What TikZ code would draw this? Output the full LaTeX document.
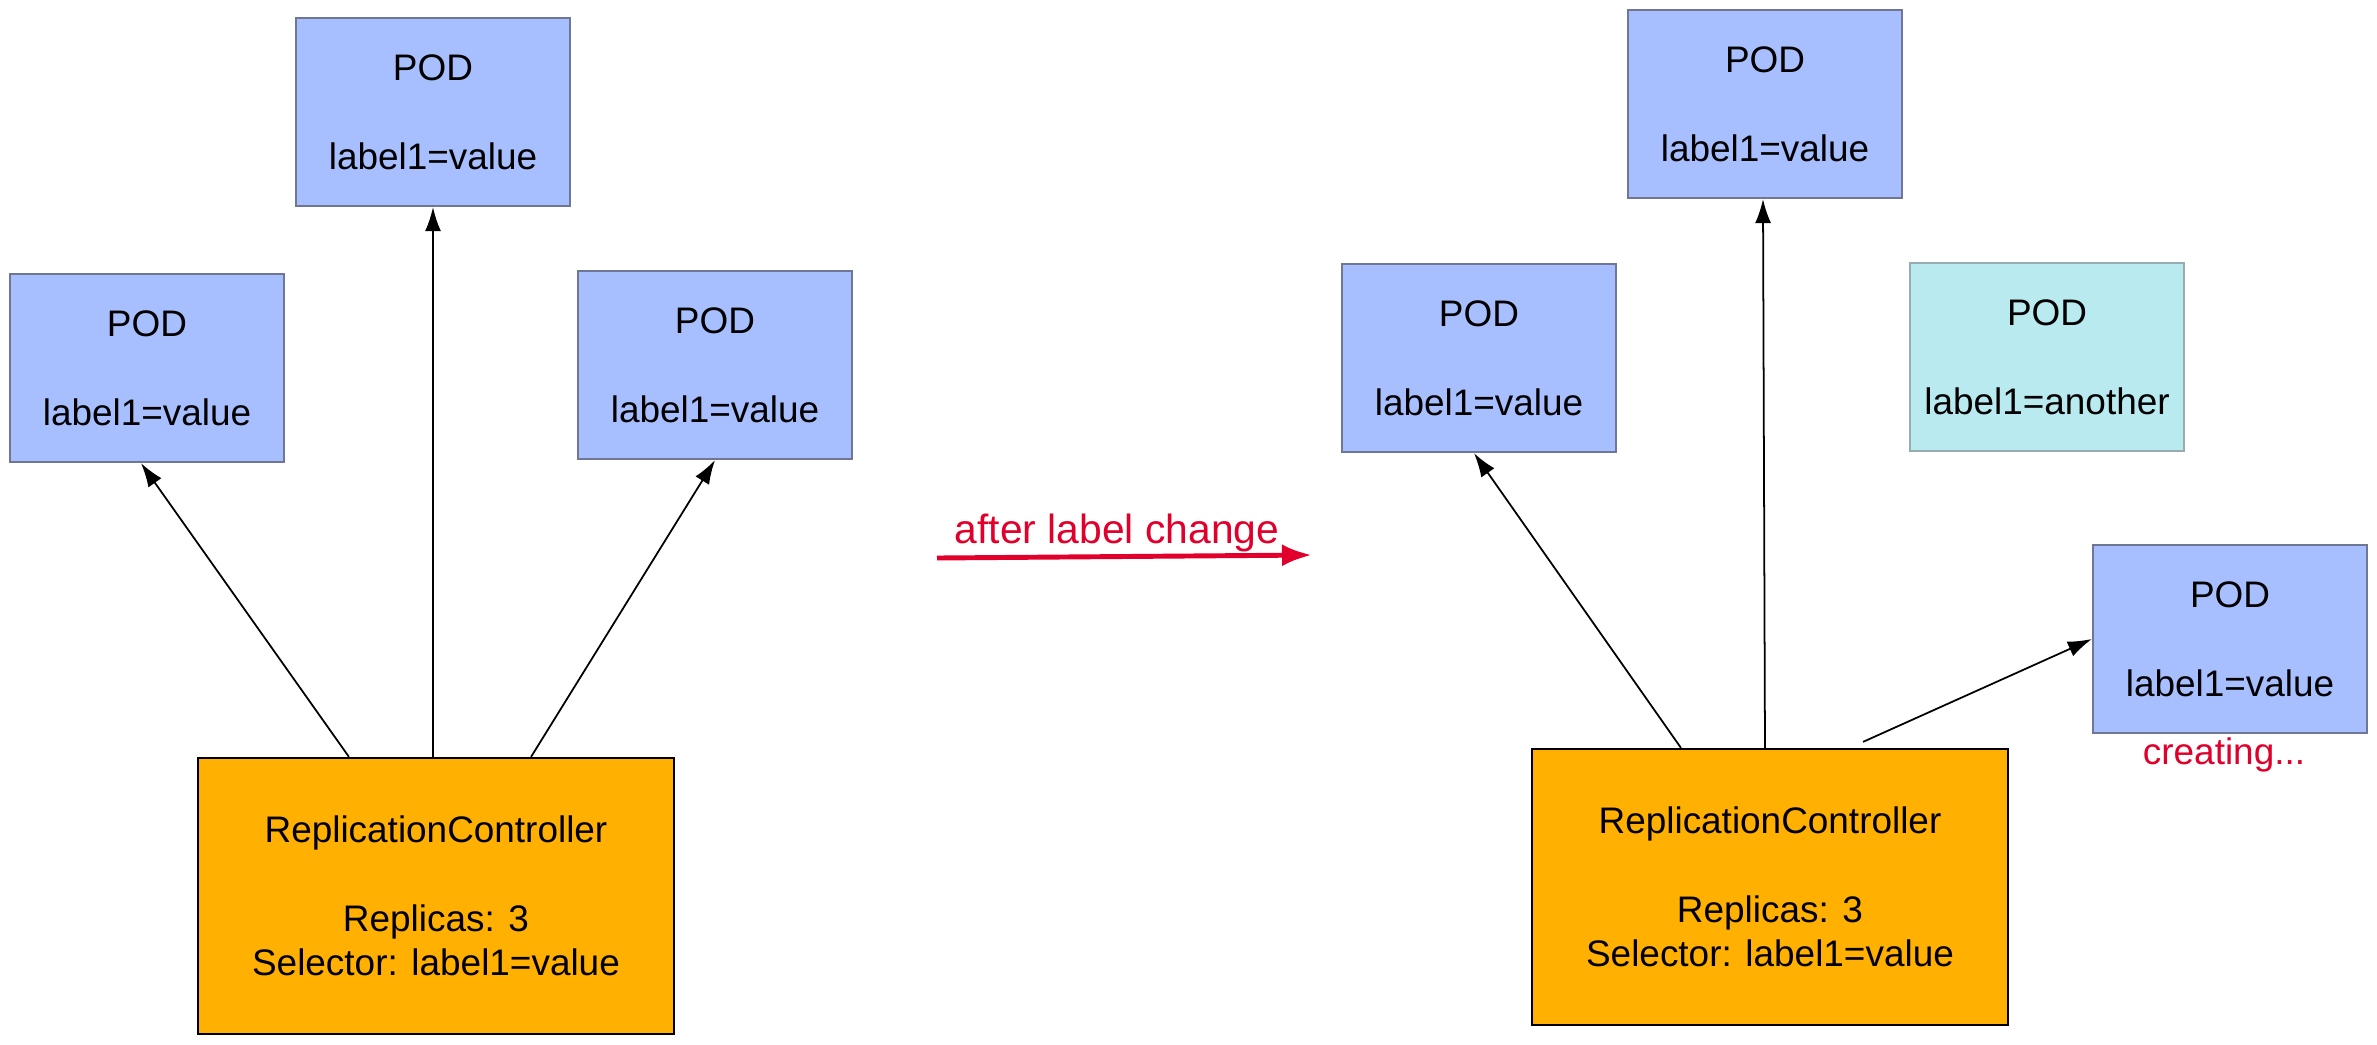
\documentclass[tikz,border=0pt]{standalone}
\usepackage{fontspec}
\setmainfont{Liberation Sans}
\usepackage{tikz}
\usetikzlibrary{arrows.meta,positioning}
\definecolor{podblue}{RGB}{168,191,255}
\definecolor{podedge}{RGB}{112,118,150}
\definecolor{podteal}{RGB}{184,234,239}
\definecolor{tealedge}{RGB}{150,172,174}
\definecolor{rcorange}{RGB}{255,176,0}
\definecolor{notered}{RGB}{224,0,43}

\begin{document}
\begin{tikzpicture}[x=0.01cm,y=-0.01cm,>=Latex,
  font=\fontsize{10.5}{12.6}\selectfont,
  pod/.style={draw=podedge,fill=podblue,line width=0.6pt,minimum width=2.74cm,minimum height=1.88cm,align=center,inner sep=0pt},
  rc/.style={draw=black,fill=rcorange,line width=0.6pt,minimum width=4.75cm,minimum height=2.76cm,align=center,inner sep=0pt},
  link/.style={-{Latex[length=2.4mm,width=1.6mm]},line width=0.5pt}]
\useasboundingbox (0,0) rectangle (2377,1044);
\node[pod] (podA) at (433,112) {POD\\[12.6pt]label1=value};
\node[pod] (podB) at (147,368) {POD\\[12.6pt]label1=value};
\node[pod] (podC) at (715,365) {POD\\[12.6pt]label1=value};
\node[rc] (rcA) at (436,896) {ReplicationController\\[12.6pt]Replicas: 3\\Selector: label1=value};
\draw[link] ([xshift=-0.87cm]rcA.north)--([xshift=-0.06cm]podB.south);
\draw[link] ([xshift=-0.03cm]rcA.north)--(podA.south);
\draw[link] ([xshift=0.95cm]rcA.north)--(podC.south);
\node[text=notered,font=\fontsize{11.6}{14}\selectfont] (change) at (1117,533) {after label change};
\coordinate (chgL) at (937,558);
\coordinate (chgR) at (1312,555);
\draw[-{Latex[length=3mm,width=2.2mm]},notered,line width=1.4pt] (chgL)--(chgR);
\node[pod] (podD) at (1765,104) {POD\\[12.6pt]label1=value};
\node[pod] (podE) at (1479,358) {POD\\[12.6pt]label1=value};
\node[pod,draw=tealedge,fill=podteal] (podF) at (2047,357) {POD\\[12.6pt]label1=another};
\node[pod] (podG) at (2230,639) {POD\\[12.6pt]label1=value};
\node[text=notered] (creating) at (2224,755) {creating...};
\node[rc] (rcB) at (1770,887) {ReplicationController\\[12.6pt]Replicas: 3\\Selector: label1=value};
\draw[link] ([xshift=-0.89cm]rcB.north)--([xshift=-0.05cm]podE.south);
\draw[link] ([xshift=-0.05cm]rcB.north)--([xshift=-0.02cm]podD.south);
\draw[link] ([xshift=0.93cm,yshift=0.06cm]rcB.north)--(podG.west);
\end{tikzpicture}
\end{document}
